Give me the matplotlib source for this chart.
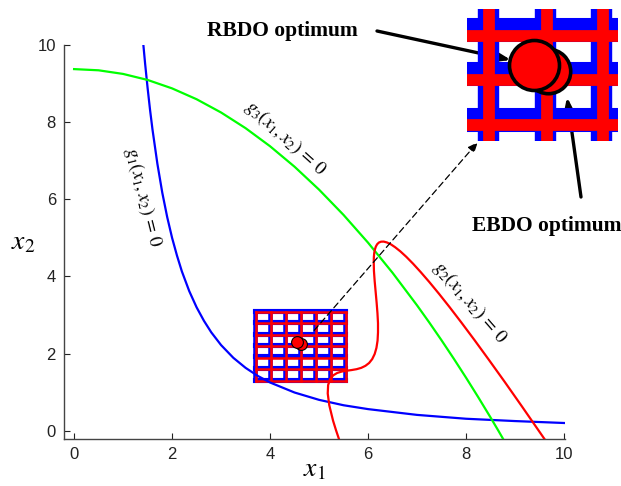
import matplotlib
matplotlib.use('Agg')
import matplotlib.pyplot as plt

plt.rcParams['mathtext.fontset'] = 'stix'
plt.rcParams['font.family'] = ['Liberation Sans', 'DejaVu Sans']

# g1(x1,x2)=0  (blue)
g1_x = [1.414, 1.45, 1.5, 1.55, 1.6, 1.7, 1.8, 1.9, 2.0, 2.1, 2.2, 2.35, 2.5, 2.65, 2.8, 3.0, 3.25,
        3.5, 3.75, 4.0, 4.5, 5.0, 5.5, 6.0, 7.0, 8.0, 9.0, 10.0]
g1_y = [10.0, 9.51, 8.89, 8.32, 7.81, 6.92, 6.17, 5.54, 5.0, 4.54, 4.13, 3.62, 3.2, 2.85, 2.55, 2.22, 1.89,
        1.63, 1.42, 1.25, 0.99, 0.8, 0.66, 0.56, 0.41, 0.31, 0.25, 0.2]

# g2(x1,x2)=0  (red)
g2_x = [5.42, 5.346, 5.286, 5.208, 5.177, 5.185, 5.225, 5.289, 5.370, 5.464, 5.564, 5.666, 5.766,
        5.860, 5.946, 6.022, 6.085, 6.135, 6.171, 6.194, 6.203, 6.203, 6.192, 6.175, 6.155, 6.135,
        6.120, 6.116, 6.119, 6.126, 6.140, 6.159, 6.186, 6.221, 6.266, 6.320, 6.385, 6.463, 6.553,
        6.659, 6.780, 6.918, 7.073, 7.249, 7.445, 7.663, 7.905, 8.172, 8.465, 8.787, 9.138, 9.52, 9.62]
g2_y = [-0.267, 0.013, 0.259, 0.663, 0.965, 1.184, 1.336, 1.436, 1.497, 1.534, 1.555, 1.573, 1.595,
        1.629, 1.682, 1.756, 1.857, 1.988, 2.147, 2.334, 2.549, 2.789, 3.048, 3.320, 3.601, 3.880,
        4.148, 4.395, 4.507, 4.608, 4.698, 4.774, 4.835, 4.878, 4.901, 4.903, 4.881, 4.834, 4.757,
        4.650, 4.509, 4.331, 4.115, 3.857, 3.555, 3.206, 2.805, 2.351, 1.840, 1.270, 0.635, -0.066, -0.25]

# g3(x1,x2)=0  (green)
g3_x = [0.0, 0.5, 1.0, 1.5, 2.0, 2.5, 3.0, 3.5, 4.0, 4.5, 5.0, 5.5, 6.0, 6.5, 7.0, 7.25, 7.5, 7.75,
        8.0, 8.25, 8.5, 8.66, 8.76]
g3_y = [9.375, 9.344, 9.25, 9.094, 8.875, 8.594, 8.25, 7.844, 7.375, 6.844, 6.25, 5.594, 4.875, 4.094,
        3.25, 2.805, 2.344, 1.867, 1.375, 0.867, 0.344, 0.0, -0.22]

# sample grid around the optimum
grid_x = [3.71, 4.01, 4.32, 4.63, 4.93, 5.24, 5.54]
grid_y = [1.29, 1.59, 1.89, 2.19, 2.48, 2.78, 3.08]

rbdo = (4.557, 2.29)
ebdo = (4.633, 2.25)

fig = plt.figure(figsize=(6.21, 4.86), dpi=100)
ax = fig.add_axes([64.3 / 621, 47 / 486, 500.7 / 621, 394 / 486])


def draw_grid(a, scale):
    # blue shadow grid under the red one
    for gx in grid_x:
        a.plot([gx - 0.009, gx - 0.009], [grid_y[0] + 0.036, grid_y[-1] + 0.036], color='#0000ff',
               lw=4.0 * scale, solid_capstyle='projecting', zorder=2)
    for gy in grid_y:
        a.plot([grid_x[0] - 0.009, grid_x[-1] - 0.009], [gy + 0.036, gy + 0.036], color='#0000ff',
               lw=4.5 * scale, solid_capstyle='projecting', zorder=2)
    for gx in grid_x:
        a.plot([gx, gx], [grid_y[0], grid_y[-1]], color='#ff0000',
               lw=2.2 * scale, solid_capstyle='projecting', zorder=3)
    for gy in grid_y:
        a.plot([grid_x[0], grid_x[-1]], [gy, gy], color='#ff0000',
               lw=2.2 * scale, solid_capstyle='projecting', zorder=3)


draw_grid(ax, 0.82)

ax.plot(g1_x, g1_y, color='#0000ff', lw=1.6, zorder=4)
ax.plot(g3_x, g3_y, color='#00ff00', lw=1.6, zorder=4)
ax.plot(g2_x, g2_y, color='#ff0000', lw=1.6, zorder=4)

ax.plot(*ebdo, 'o', ms=8.5, mfc='#ff0000', mec='k', mew=0.8, zorder=6)
ax.plot(*rbdo, 'o', ms=8.5, mfc='#ff0000', mec='k', mew=0.8, zorder=7)

ax.set_xlim(-0.2, 10.02)
ax.set_ylim(-0.215, 10.0)
ax.set_xticks([0, 2, 4, 6, 8, 10])
ax.set_yticks([0, 2, 4, 6, 8, 10])
ax.tick_params(direction='in', length=4, labelsize=12, colors='#222222', pad=6)
for s in ['top', 'right']:
    ax.spines[s].set_visible(False)
for s in ['left', 'bottom']:
    ax.spines[s].set_color('#444444')
    ax.spines[s].set_linewidth(1.0)

ax.set_xlabel(r'$x_1$', fontsize=20, labelpad=-4)
ax.set_ylabel(r'$x_2$', fontsize=20, rotation=0, labelpad=10, va='center')

ax.text(1.41, 6.06, r'$g_1(x_1,x_2)\,=\,0$', fontsize=13.5, rotation=-76,
        ha='center', va='center', rotation_mode='anchor')
ax.text(4.31, 7.59, r'$g_3(x_1,x_2)\,=\,0$', fontsize=13.5, rotation=-42,
        ha='center', va='center', rotation_mode='anchor')
ax.text(8.08, 3.34, r'$g_2(x_1,x_2)\,=\,0$', fontsize=13.5, rotation=-49,
        ha='center', va='center', rotation_mode='anchor')

# dashed pointer to the zoomed view
ax.annotate('', xy=(8.24, 7.48), xytext=(4.9, 2.6), xycoords='data',
            arrowprops=dict(arrowstyle='-|>,head_length=0.6,head_width=0.25', lw=0.9,
                            ls=(0, (5, 3)), color='k', shrinkA=0, shrinkB=0), zorder=8)

# zoomed view
axin = fig.add_axes([467 / 621, (486 - 141) / 486, 151 / 621, 132 / 486])
draw_grid(axin, 3.85)
axin.plot(*ebdo, 'o', ms=32, mfc='#ff0000', mec='k', mew=2.6, zorder=6)
axin.plot(*rbdo, 'o', ms=36, mfc='#ff0000', mec='k', mew=2.6, zorder=7)
axin.set_xlim(4.20, 5.01)
axin.set_ylim(1.786, 2.656)
axin.axis('off')

fig.text(282.5 / 621, (486 - 31) / 486, 'RBDO optimum', fontsize=15.5, fontweight='bold',
         family='Liberation Serif', ha='center', va='center')
fig.text(472 / 621, (486 - 226) / 486, 'EBDO optimum', fontsize=15.5, fontweight='bold',
         family='Liberation Serif', ha='left', va='center')

ax.annotate('', xy=(511, 426), xytext=(377, 455), xycoords='figure pixels',
            arrowprops=dict(arrowstyle='-|>,head_length=1.0,head_width=0.35', lw=2.4,
                            color='k', mutation_scale=18, shrinkA=0, shrinkB=0), zorder=10)
ax.annotate('', xy=(567, 389), xytext=(581, 289), xycoords='figure pixels',
            arrowprops=dict(arrowstyle='-|>,head_length=1.0,head_width=0.35', lw=2.4,
                            color='k', mutation_scale=15, shrinkA=0, shrinkB=0), zorder=10)

fig.savefig('out.png', dpi=100)
